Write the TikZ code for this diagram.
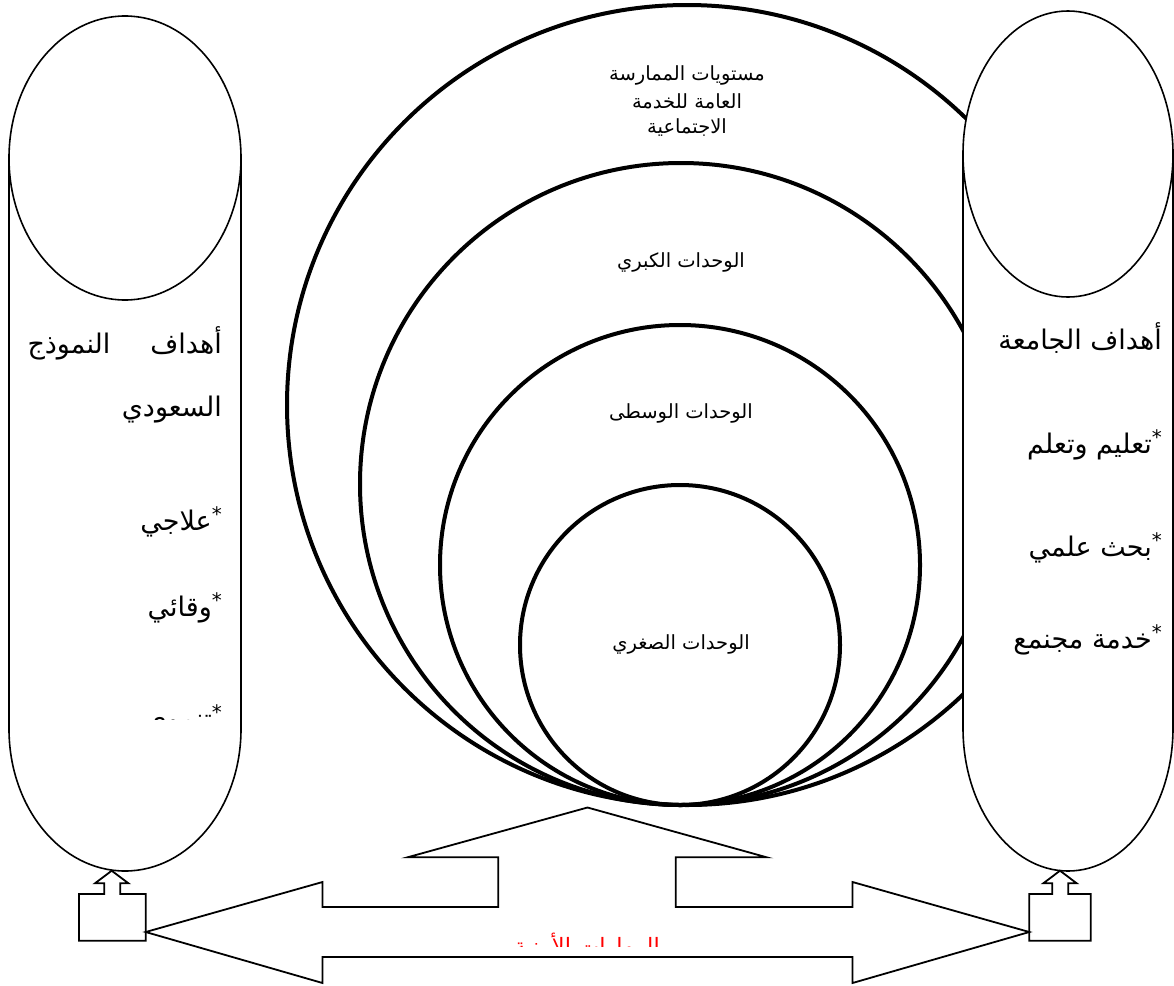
\documentclass[tikz,border=0pt]{standalone}
\usepackage{fontspec}
\TeXXeTstate=1
\newfontfamily\arabicfont[Script=Arabic]{DejaVu Sans}
\newcommand{\starmark}{\raisebox{9pt}{\fontsize{20}{20}\selectfont *}}
\begin{document}
\begin{tikzpicture}[x=1pt,y=-1pt,
  ring/.style={draw=black,line width=4pt},
  pillar/.style={draw=black,fill=white,line width=1.6pt},
  outline/.style={draw=black,fill=white,line width=1.8pt,line join=miter},
  small/.style={font=\arabicfont\fontsize{19.5}{22}\selectfont,inner sep=0pt},
  big/.style={font=\arabicfont\fontsize{27}{30}\selectfont,inner sep=0pt,anchor=east},
  redlab/.style={font=\arabicfont\fontsize{22.5}{26}\selectfont,inner sep=0pt,text=red,anchor=base}]
\useasboundingbox (0,0) rectangle (1174,985);
% nested circles
\draw[ring] (687,405) circle[radius=400];
\draw[ring] (681,484) circle[radius=321];
\draw[ring] (680,565) circle[radius=240];
\draw[ring] (680,645) circle[radius=160];
% left pillar
\path[pillar] (9,158) -- (9,729) arc[start angle=180,end angle=360,x radius=116,y radius=-142] -- (241,158);
\draw[pillar] (125,158) ellipse[x radius=116,y radius=142];
% right pillar
\path[pillar] (963,154) -- (963,728) arc[start angle=180,end angle=360,x radius=105,y radius=-143] -- (1173,154);
\draw[pillar] (1068,154) ellipse[x radius=105,y radius=143];
% small boxes with up arrows
\draw[outline] (79,940.7) -- (79,894) -- (104.3,894) -- (104.3,883.3) -- (95,883.3) -- (111.7,870.7) -- (128.5,883.3) -- (120.3,883.3) -- (120.3,894) -- (145.7,894) -- (145.7,940.7) -- cycle;
\draw[outline] (1029.3,940.7) -- (1029.3,894) -- (1052.3,894) -- (1052.3,883.3) -- (1043.3,883.3) -- (1060,870.7) -- (1076.7,883.3) -- (1068.3,883.3) -- (1068.3,894) -- (1090.7,894) -- (1090.7,940.7) -- cycle;
% big three-way arrow
\draw[outline] (587.5,807.5) -- (766.7,857.3) -- (675.7,857.3) -- (675.7,907) -- (852.5,907) -- (852.5,882) -- (1029.3,932) -- (852.5,983) -- (852.5,957) -- (322.5,957) -- (322.5,983) -- (145.7,932) -- (322.5,882) -- (322.5,907) -- (498.3,907) -- (498.3,857.3) -- (407.5,857.3) -- cycle;
% circle texts
\node[small] (t1) at (687,75) {\beginR مستويات الممارسة\endR};
\node[small] (t2) at (687,101) {\beginR العامة للخدمة\endR};
\node[small] (t3) at (687,128) {\beginR الاجتماعية\endR};
\node[small] (big1) at (681,262) {\beginR الوحدات الكبري\endR};
\node[small] (mid1) at (681,413) {\beginR الوحدات الوسطى\endR};
\node[small] (sm1) at (681,644) {\beginR الوحدات الصغري\endR};
% left texts
\node[big] (l1) at (222,343) {\beginR أهداف\hspace{40pt}النموذج\endR};
\node[big] (l2) at (222,410) {\beginR السعودي\endR};
\node[big] (l3) at (222,522) {\beginR\starmark علاجي\endR};
\node[big] (l4) at (222,608) {\beginR\starmark وقائي\endR};
\begin{scope}
\clip (20,690) rectangle (240,719);
\node[big] (l5) at (222,720) {\beginR\starmark تنموي\endR};
\end{scope}
% right texts
\node[big] (r1) at (1162,338) {\beginR أهداف الجامعة\endR};
\node[big] (r2) at (1162,445) {\beginR\starmark تعليم وتعلم\endR};
\node[big] (r3) at (1162,548) {\beginR\starmark بحث علمي\endR};
\node[big] (r4) at (1162,640) {\beginR\starmark خدمة مجنمع\endR};
% clipped red label
\begin{scope}
\clip (480,925) rectangle (700,946);
\node[redlab] (red) at (587,954) {\beginR المهارات الأمنية\endR};
\end{scope}
\end{tikzpicture}
\end{document}
